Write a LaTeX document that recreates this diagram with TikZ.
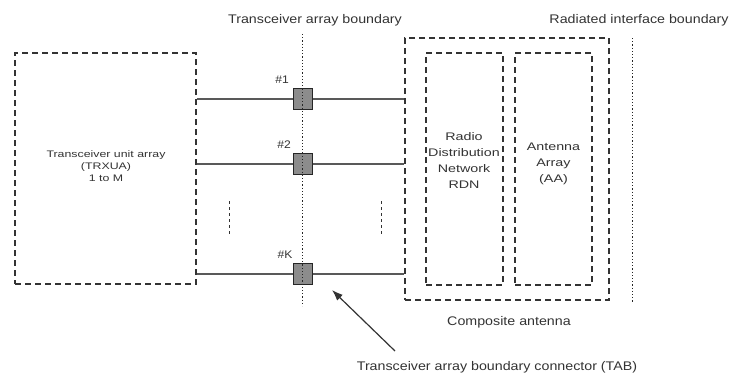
\documentclass[tikz,border=0pt]{standalone}
\usepackage{fontspec}
\setmainfont{Liberation Sans}
\usetikzlibrary{arrows.meta}
\definecolor{ink}{HTML}{333333}
\newcommand\wide[2]{\scalebox{#1}[1]{#2}}
\tikzset{
  dbox/.style={draw=ink, line width=1.1pt, dash pattern=on 6pt off 4pt, minimum width=#1, inner sep=0pt},
  tabsq/.style={draw=black!85, fill=black!45, line width=1.4pt, minimum width=19pt, minimum height=21pt, inner sep=0pt},
  link/.style={draw=black!65, line width=1.8pt},
  bound/.style={draw=black!85, line width=1pt, dash pattern=on 1.2pt off 2pt},
  vdots/.style={draw=ink, line width=1pt, dash pattern=on 3pt off 3pt},
  lbl/.style={text=ink, font=\fontsize{12.5}{15}\selectfont, inner sep=0pt},
  inlbl/.style={text=ink, font=\fontsize{11}{16}\selectfont, inner sep=0pt},
  smlbl/.style={text=ink, font=\fontsize{9.5}{12}\selectfont, inner sep=0pt},
}
\begin{document}
\begin{tikzpicture}[x=1pt,y=-1pt]
\useasboundingbox (0,0) rectangle (729,378);
% boxes
\node[dbox=181pt, minimum height=231pt] (trx) at (105.5,168.5) {};
\node[dbox=204pt, minimum height=262pt] (comp) at (507,169) {};
\node[dbox=77pt, minimum height=232pt] (rdn) at (464.5,169) {};
\node[dbox=77pt, minimum height=232pt] (aa) at (553.5,169) {};
% box texts
\node[smlbl] (trxt) at (106,167) {\wide{1.3}{\begin{tabular}{@{}c@{}}Transceiver unit array\\(TRXUA)\\1 to M\end{tabular}}};
\node[inlbl] (rdnt) at (464,161) {\wide{1.3}{\begin{tabular}{@{}c@{}}Radio\\Distribution\\Network\\RDN\end{tabular}}};
\node[inlbl] (aat) at (553.5,163) {\wide{1.3}{\begin{tabular}{@{}c@{}}Antenna\\Array\\(AA)\end{tabular}}};
% TAB squares
\node[tabsq] (sq1) at (303,99) {};
\node[tabsq] (sq2) at (303,164) {};
\node[tabsq] (sqk) at (303,274) {};
% links
\foreach \s in {sq1,sq2,sqk}{
  \draw[link] (trx.east |- \s) -- (\s.west);
  \draw[link] (\s.east) -- (comp.west |- \s);
}
% boundaries
\coordinate (tbtop) at (302,34);
\coordinate (tbbot) at (302,306);
\draw[bound] (tbtop) -- (tbbot);
\coordinate (rbtop) at (632,38);
\coordinate (rbbot) at (632,303);
\draw[bound] (rbtop) -- (rbbot);
% ellipsis dashes
\coordinate (e1t) at (229,201);
\coordinate (e1b) at (229,236);
\coordinate (e2t) at (381,201);
\coordinate (e2b) at (381,236);
\draw[vdots] (e1t) -- (e1b);
\draw[vdots] (e2t) -- (e2b);
% connector labels
\node[lbl, font=\fontsize{11}{13}\selectfont] (n1) at (282,80) {\wide{1.1}{\#1}};
\node[lbl, font=\fontsize{11}{13}\selectfont] (n2) at (284,145) {\wide{1.1}{\#2}};
\node[lbl, font=\fontsize{11}{13}\selectfont] (nk) at (285,255) {\wide{1.1}{\#K}};
% labels
\node[lbl] (tabl) at (315,20) {\wide{1.14}{Transceiver array boundary}};
\node[lbl] (ribl) at (639,20) {\wide{1.14}{Radiated interface boundary}};
\node[lbl] (compl) at (509,322) {\wide{1.14}{Composite antenna}};
\node[lbl] (tabc) at (497,367) {\wide{1.14}{Transceiver array boundary connector (TAB)}};
% arrow
\coordinate (atail) at (395,351);
\coordinate (ahead) at (332,290);
\draw[draw=ink, line width=1.2pt, -{Latex[length=11pt,width=8pt]}] (atail) -- (ahead);
\end{tikzpicture}
\end{document}
